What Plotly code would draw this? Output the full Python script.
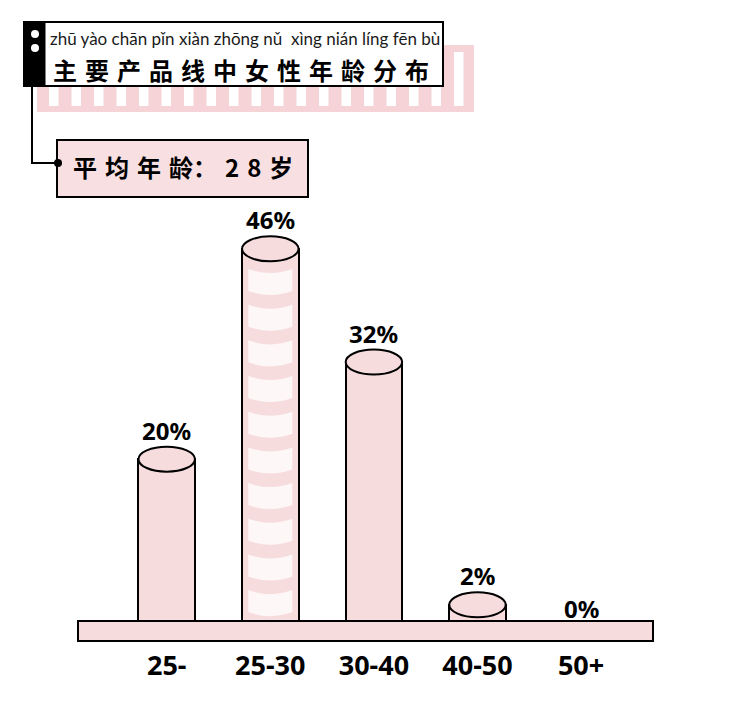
import plotly.graph_objects as go

# Data
age_groups = ['25-', '25-30', '30-40', '40-50', '50+']
share_pct = [20, 46, 32, 2, 0]
title_pinyin = 'zhū yào chān pǐn xiàn zhōng nǔ  xìng nián líng fēn bù'
title_cn = '主要产品线中女性年龄分布'
avg_age = 28

# Layout constants, in pixels of the 734x706 page
# (the html body adds an 8px margin around the figure)
PAGE_OFF = 8
W, H = 734 - 2 * PAGE_OFF, 706 - 2 * PAGE_OFF
PLOT_L, PLOT_R, PLOT_T, PLOT_B = 60, 674, 180, 642
X_UNIT = 103.6      # px per category step
X0_PX = 166.7       # px of first category
Y_UNIT = 8.09       # px per percent
Y0_PX = 621         # px of the 0% line
BAR_W = 0.545
CAP_H = 12.5 / Y_UNIT
STRIPED = '25-30'

PINK = '#f7dcdd'
PINK_BAND = '#f6d3d6'
STRIPE = '#fdf7f7'
SP = '\u2004'

PW, PH = PLOT_R - PLOT_L, PLOT_B - PLOT_T


def px(x):
    return (x - PLOT_L) / PW


def py(y):
    return (PLOT_B - y) / PH


x_lo = (PLOT_L - X0_PX) / X_UNIT
x_hi = x_lo + PW / X_UNIT
y_lo = -(PLOT_B - Y0_PX) / Y_UNIT
y_hi = (Y0_PX - PLOT_T) / Y_UNIT

idx = list(range(len(age_groups)))

fig = go.Figure()
fig.add_trace(go.Bar(
    x=idx, y=share_pct, width=BAR_W,
    marker=dict(color=PINK, line=dict(color='black', width=2)),
    hoverinfo='skip', showlegend=False,
))

shapes = []

# header pink comb band
shapes.append(dict(type='rect', xref='paper', yref='paper', x0=px(37), x1=px(474),
                   y0=py(112), y1=py(45), fillcolor=PINK_BAND, line=dict(width=0), layer='below'))
for k in range(19):
    sx = 49 + 22.5 * k
    shapes.append(dict(type='rect', xref='paper', yref='paper', x0=px(sx), x1=px(sx + 9.5),
                       y0=py(106), y1=py(52), fillcolor='white', line=dict(width=0), layer='below'))

# header box
shapes.append(dict(type='rect', xref='paper', yref='paper', x0=px(24), x1=px(443),
                   y0=py(86), y1=py(22), fillcolor='white', line=dict(color='black', width=2)))
shapes.append(dict(type='rect', xref='paper', yref='paper', x0=px(24), x1=px(45),
                   y0=py(86), y1=py(22), fillcolor='black', line=dict(color='black', width=1)))
for cy in (34, 48):
    shapes.append(dict(type='circle', xref='paper', yref='paper', x0=px(31), x1=px(39),
                       y0=py(cy + 4), y1=py(cy - 4), fillcolor='white', line=dict(width=0)))

# connector to the average box
shapes.append(dict(type='path', xref='paper', yref='paper',
                   path=f'M {px(32)},{py(86)} L {px(32)},{py(163)} L {px(58)},{py(163)}',
                   line=dict(color='black', width=2)))
shapes.append(dict(type='rect', xref='paper', yref='paper', x0=px(57), x1=px(308),
                   y0=py(197), y1=py(140), fillcolor='#f8dfe1', line=dict(color='black', width=2)))
shapes.append(dict(type='circle', xref='paper', yref='paper', x0=px(54), x1=px(62),
                   y0=py(167), y1=py(159), fillcolor='black', line=dict(width=0)))

# stripes on the highlighted bar
for i, v in zip(idx, share_pct):
    if age_groups[i] != STRIPED:
        continue
    top = v - 2.49
    half = 22 / X_UNIT
    while top - 2.72 > 0.9:
        bot = top - 2.72
        xa, xb = i - half, i + half
        shapes.append(dict(type='path', xref='x', yref='y',
                           path=f'M {xa},{top} Q {i},{top - 1.0} {xb},{top} '
                                f'L {xb},{bot} Q {i},{bot - 1.0} {xa},{bot} Z',
                           fillcolor=STRIPE, line=dict(width=0)))
        top -= 4.41

# cylinder caps
for i, v in zip(idx, share_pct):
    if v <= 0:
        continue
    shapes.append(dict(type='circle', xref='x', yref='y',
                       x0=i - BAR_W / 2, x1=i + BAR_W / 2, y0=v - CAP_H, y1=v + CAP_H,
                       fillcolor=PINK, line=dict(color='black', width=2)))

# base plate
shapes.append(dict(type='rect', xref='paper', yref='paper', x0=px(78), x1=px(653),
                   y0=py(641), y1=py(Y0_PX), fillcolor=PINK, line=dict(color='black', width=2)))

annotations = [
    dict(text=title_pinyin, xref='paper', yref='paper', x=px(48), y=py(38),
         xanchor='left', yanchor='middle', showarrow=False,
         font=dict(family='Lato', size=17, color='#1a1a1a')),
    dict(text=SP.join(title_cn), xref='paper', yref='paper', x=px(51), y=py(70),
         xanchor='left', yanchor='middle', showarrow=False,
         font=dict(family='Noto Sans CJK SC', size=24, color='black', weight='bold')),
    dict(text=f'平{SP}均{SP}年{SP}龄：{SP}{SP.join(str(avg_age))}{SP}岁', xref='paper', yref='paper',
         x=px(71), y=py(167), xanchor='left', yanchor='middle', showarrow=False,
         font=dict(family='Noto Sans CJK SC', size=24, color='black', weight='bold')),
]
for i, v in zip(idx, share_pct):
    annotations.append(dict(text=f'{v}%', x=i, y=v, xref='x', yref='y',
                            yanchor='middle', yshift=29 if v > 0 else 13, showarrow=False,
                            font=dict(family='Noto Sans', size=24, color='black', weight='bold')))

fig.update_layout(
    width=W, height=H,
    margin=dict(l=PLOT_L - PAGE_OFF, r=W - (PLOT_R - PAGE_OFF),
                t=PLOT_T - PAGE_OFF, b=H - (PLOT_B - PAGE_OFF)),
    paper_bgcolor='white', plot_bgcolor='white',
    shapes=shapes, annotations=annotations,
    xaxis=dict(range=[x_lo, x_hi], tickvals=idx, ticktext=age_groups,
               showgrid=False, zeroline=False, showline=False, ticks='',
               ticklabelstandoff=5,
               tickfont=dict(family='Noto Sans', size=27, color='black', weight='bold')),
    yaxis=dict(range=[y_lo, y_hi], visible=False, showgrid=False, zeroline=False),
    bargap=0,
)

fig.write_html('out.html')
